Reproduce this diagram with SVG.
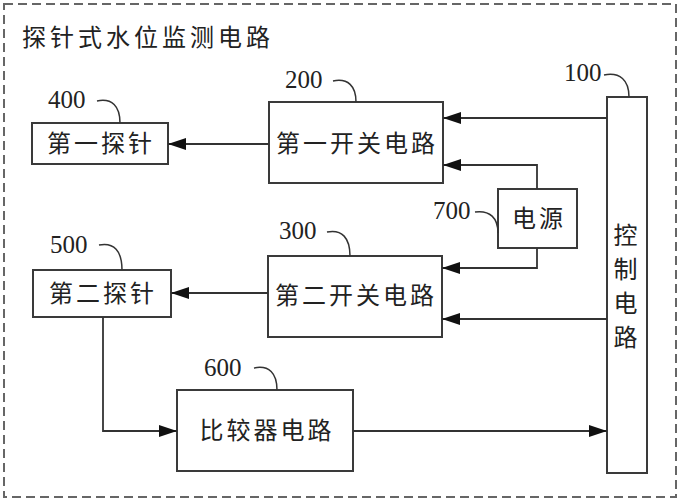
<svg xmlns="http://www.w3.org/2000/svg" width="682" height="500" viewBox="0 0 682 500">
<style>
.box{fill:#fff;stroke:#3a3a3a;stroke-width:2}
.lbl{font-family:"Noto Sans CJK SC","Noto Sans CJK JP",sans-serif;font-size:24px;fill:#222;text-anchor:middle;letter-spacing:3px}
.num{font-family:"Liberation Serif",serif;font-size:25px;fill:#222}
.lead{fill:none;stroke:#333;stroke-width:1.5}
.wire{fill:none;stroke:#333;stroke-width:1.8}
</style>
<defs>
<marker id="ah" markerWidth="18" markerHeight="12" refX="18" refY="6" orient="auto" markerUnits="userSpaceOnUse">
<path d="M0,0 L18,6 L0,12 z" fill="#111"/>
</marker>
</defs>
<rect x="0" y="0" width="682" height="500" fill="#fff"/>
<rect x="4" y="4" width="672" height="493" fill="none" stroke="#666" stroke-width="2" stroke-dasharray="9,5"/>
<text x="22" y="46" font-family="Noto Sans CJK SC, Noto Sans CJK JP, sans-serif" font-size="24" fill="#222" letter-spacing="4">探针式水位监测电路</text>

<g id="n100">
<rect class="box" x="607" y="97" width="40" height="376"/>
<text class="lbl" x="627" y="244" letter-spacing="0">控</text>
<text class="lbl" x="627" y="278" letter-spacing="0">制</text>
<text class="lbl" x="627" y="312" letter-spacing="0">电</text>
<text class="lbl" x="627" y="346" letter-spacing="0">路</text>
<text class="num" x="564" y="81">100</text>
<path class="lead" d="M604,75 C620,72 629,80 629,97"/>
</g>
<g id="n200">
<rect class="box" x="269" y="102" width="174" height="81"/>
<text class="lbl" x="357" y="152">第一开关电路</text>
<text class="num" x="285" y="88">200</text>
<path class="lead" d="M333,81 C348,78 356,86 356,102"/>
</g>
<g id="n300">
<rect class="box" x="268" y="256" width="174" height="81"/>
<text class="lbl" x="356" y="304">第二开关电路</text>
<text class="num" x="279" y="239">300</text>
<path class="lead" d="M327,232 C342,229 350,238 350,256"/>
</g>
<g id="n400">
<rect class="box" x="32" y="123" width="136" height="41"/>
<text class="lbl" x="101" y="152">第一探针</text>
<text class="num" x="48" y="108">400</text>
<path class="lead" d="M97,101 C112,98 120,106 120,123"/>
</g>
<g id="n500">
<rect class="box" x="33" y="270" width="138" height="47"/>
<text class="lbl" x="103" y="302">第二探针</text>
<text class="num" x="50" y="253">500</text>
<path class="lead" d="M99,245 C114,242 122,251 122,270"/>
</g>
<g id="n600">
<rect class="box" x="177" y="390" width="176" height="81"/>
<text class="lbl" x="267" y="439">比较器电路</text>
<text class="num" x="204" y="376">600</text>
<path class="lead" d="M254,368 C269,365 277,373 277,390"/>
</g>
<g id="n700">
<rect class="box" x="498" y="189" width="79" height="59"/>
<text class="lbl" x="539" y="227">电源</text>
<text class="num" x="433" y="219">700</text>
<path class="lead" d="M475,212 C490,210 498,218 498,233"/>
</g>

<g id="connectors">
<path class="wire" d="M269,144 L168,144" marker-end="url(#ah)"/>
<path class="wire" d="M607,118 L443,118" marker-end="url(#ah)"/>
<path class="wire" d="M537,189 L537,165 L443,165" marker-end="url(#ah)"/>
<path class="wire" d="M537,248 L537,268 L442,268" marker-end="url(#ah)"/>
<path class="wire" d="M607,319 L442,319" marker-end="url(#ah)"/>
<path class="wire" d="M268,293 L171,293" marker-end="url(#ah)"/>
<path class="wire" d="M103,317 L103,431 L177,431" marker-end="url(#ah)"/>
<path class="wire" d="M353,431 L607,431" marker-end="url(#ah)"/>
</g>
</svg>
